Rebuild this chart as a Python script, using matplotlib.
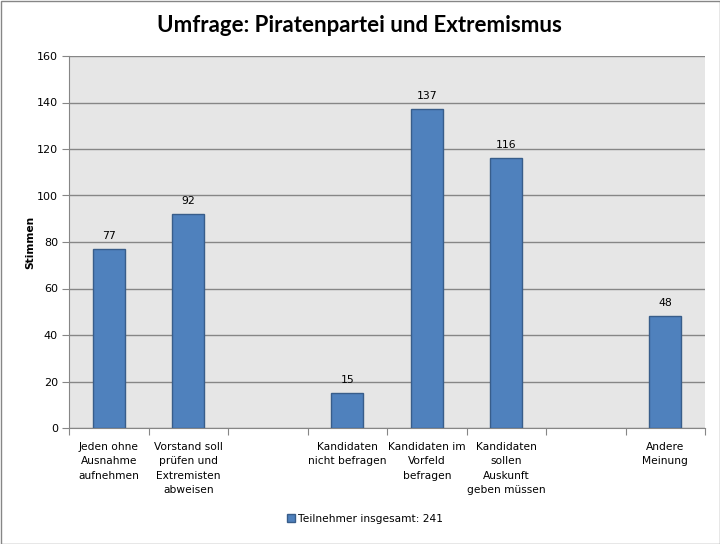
import matplotlib
matplotlib.use("Agg")
import matplotlib.pyplot as plt
import numpy as np
from matplotlib.patches import Rectangle

# Survey answers (empty slots are left blank as in the original sheet)
categories = [
    "Jeden ohne\nAusnahme\naufnehmen",
    "Vorstand soll\nprüfen und\nExtremisten\nabweisen",
    "",
    "Kandidaten\nnicht befragen",
    "Kandidaten im\nVorfeld\nbefragen",
    "Kandidaten\nsollen\nAuskunft\ngeben müssen",
    "",
    "Andere\nMeinung",
]
votes = [77, 92, np.nan, 15, 137, 116, np.nan, 48]
series_name = "Teilnehmer insgesamt: 241"
title = "Umfrage: Piratenpartei und Extremismus"
y_ticks = list(range(0, 161, 20))


def main():
    fig = plt.figure(figsize=(7.2, 5.44), dpi=100)
    ax = fig.add_axes([69 / 720, 116 / 544, 636 / 720, 372 / 544])

    grid_col = "#868686"
    ax.set_facecolor("#E6E6E6")

    x = np.arange(len(categories))
    bars = ax.bar(x, votes, width=0.4, color="#4F81BD", edgecolor="#385D8A",
                  linewidth=1, zorder=3, label=series_name)

    # value labels
    for xi, v in zip(x, votes):
        if np.isnan(v):
            continue
        ax.annotate(f"{int(v)}", (xi, v), xytext=(0, 6), textcoords="offset points",
                    ha="center", va="bottom", fontsize=7.8, color="black")

    ax.set_xlim(-0.5, len(categories) - 0.5)
    ax.set_ylim(0, 160)
    ax.set_yticks(y_ticks)
    ax.yaxis.grid(True, color=grid_col, linewidth=1, zorder=0)
    ax.set_axisbelow(True)

    # tick marks at category boundaries, labels in the middle
    ax.set_xticks(np.arange(len(categories) + 1) - 0.5)
    ax.set_xticklabels([])
    ax.set_xticks(x, minor=True)
    ax.set_xticklabels(categories, minor=True, fontsize=7.7, linespacing=1.55, va="top")
    ax.tick_params(axis="x", which="minor", length=0, pad=10)
    ax.tick_params(axis="x", which="major", length=5, color=grid_col, direction="out")
    ax.tick_params(axis="y", length=5, color=grid_col, labelsize=8, pad=3)

    for side in ("top", "right"):
        ax.spines[side].set_visible(False)
    for side in ("left", "bottom"):
        ax.spines[side].set_color(grid_col)

    fig.text(30 / 720, 1 - 242 / 544, "Stimmen", rotation=90, ha="center", va="center",
             fontsize=7.7, fontweight="bold")
    fig.text(359 / 720, 1 - 25 / 544, title, ha="center", va="center",
             fontsize=16, fontweight="bold", family="Lato")

    fig.legend(handles=[bars], loc="center", bbox_to_anchor=(365 / 720, 1 - 519 / 544),
               frameon=False, fontsize=7.7, handlelength=0.8, handleheight=0.8,
               handletextpad=0.3)

    fig.patches.append(Rectangle((0.5 / 720, 0.5 / 544), 719 / 720, 543 / 544,
                                 transform=fig.transFigure, fill=False,
                                 edgecolor=grid_col, linewidth=1))

    plt.savefig("out.png", dpi=100)


if __name__ == "__main__":
    main()
